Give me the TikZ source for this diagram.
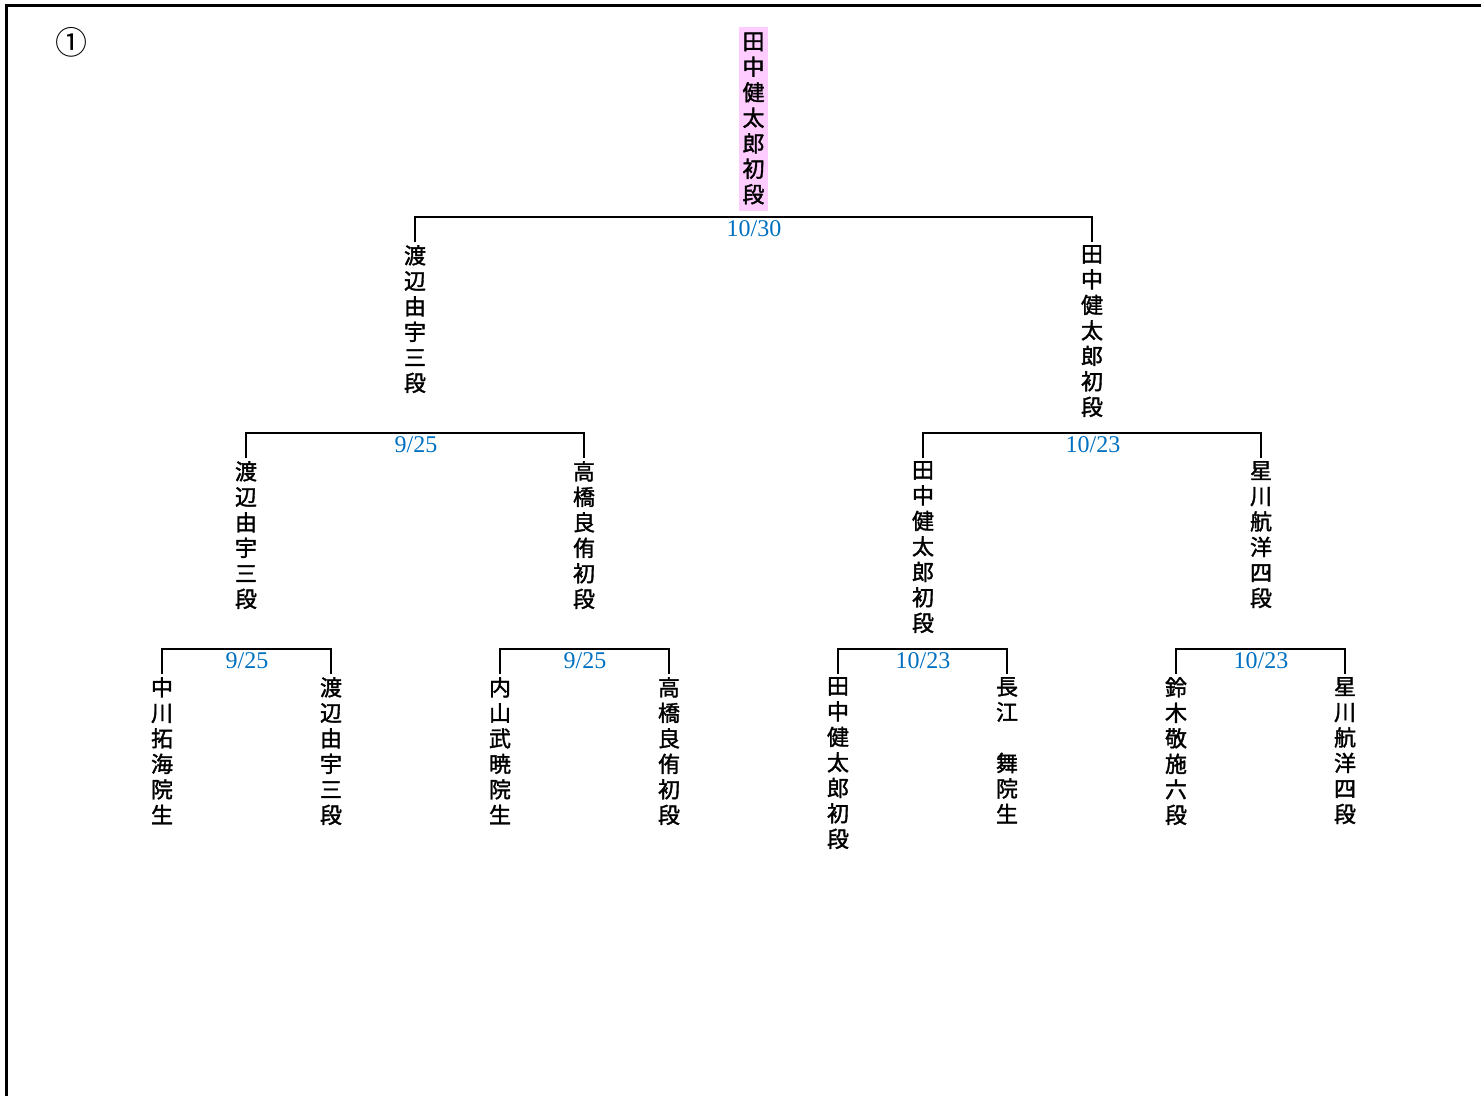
\documentclass[tikz,border=0pt]{standalone}
\usepackage{fontspec}
\newfontfamily\jp[FakeBold=1.6]{Noto Sans CJK JP}
\newfontfamily\circfont{Noto Sans CJK JP}
\newfontfamily\numfont{Liberation Serif}
\definecolor{datablue}{RGB}{0,112,192}
\definecolor{pinkbg}{RGB}{255,204,255}
\tikzset{
  player/.style={font=\jp\fontsize{22}{25.5}\selectfont, align=center, inner xsep=0pt, inner ysep=3pt, anchor=north},
  datelbl/.style={font=\numfont\fontsize{24}{26}\selectfont, text=datablue, inner sep=0pt, anchor=base},
  bracket/.style={line width=1.6pt},
  frame/.style={line width=2.5pt}
}
\begin{document}
\begin{tikzpicture}[x=1pt,y=-1pt]
\useasboundingbox (0,0) rectangle (1481,1096);
\coordinate (fa) at (6.5,1096);
\coordinate (fb) at (6.5,5.5);
\coordinate (fc) at (1481,5.5);
\draw[frame] (fa) -- (fb) -- (fc);
\node[font=\circfont\fontsize{32}{34}\selectfont, inner sep=0pt] (num) at (71,42) {①};
% root
\node[font=\jp\fontsize{22}{25.5}\selectfont, align=center, fill=pinkbg, minimum width=29pt, minimum height=184pt, inner sep=0pt] (root) at (753.5,118.5) {田\\中\\健\\太\\郎\\初\\段};
% level 1
\node[player] (a1) at (415,242) {渡\\辺\\由\\宇\\三\\段};
\node[player] (a2) at (1092,242) {田\\中\\健\\太\\郎\\初\\段};
\coordinate (ba) at (754,217);
\draw[bracket] (a1.north) |- (ba) -| (a2.north);
\node[datelbl] (da) at (754,236.5) {10/30};
% level 2
\node[player] (b1) at (246,458) {渡\\辺\\由\\宇\\三\\段};
\node[player] (b2) at (584,458) {高\\橋\\良\\侑\\初\\段};
\node[player] (b3) at (923,458) {田\\中\\健\\太\\郎\\初\\段};
\node[player] (b4) at (1261,458) {星\\川\\航\\洋\\四\\段};
\coordinate (bb1) at (415,433);
\coordinate (bb2) at (1092,433);
\draw[bracket] (b1.north) |- (bb1) -| (b2.north);
\draw[bracket] (b3.north) |- (bb2) -| (b4.north);
\node[datelbl] (db1) at (416,452.5) {9/25};
\node[datelbl] (db2) at (1093,452.5) {10/23};
% level 3
\node[player] (c1) at (162,674) {中\\川\\拓\\海\\院\\生};
\node[player] (c2) at (331,674) {渡\\辺\\由\\宇\\三\\段};
\node[player] (c3) at (500,674) {内\\山\\武\\暁\\院\\生};
\node[player] (c4) at (669,674) {高\\橋\\良\\侑\\初\\段};
\node[player] (c5) at (838,674) {田\\中\\健\\太\\郎\\初\\段};
\node[player] (c6) at (1007,674) {長\\江\\　\\舞\\院\\生};
\node[player] (c7) at (1176,674) {鈴\\木\\敬\\施\\六\\段};
\node[player] (c8) at (1345,674) {星\\川\\航\\洋\\四\\段};
\coordinate (bc1) at (246.5,649);
\coordinate (bc2) at (584.5,649);
\coordinate (bc3) at (922.5,649);
\coordinate (bc4) at (1260.5,649);
\draw[bracket] (c1.north) |- (bc1) -| (c2.north);
\draw[bracket] (c3.north) |- (bc2) -| (c4.north);
\draw[bracket] (c5.north) |- (bc3) -| (c6.north);
\draw[bracket] (c7.north) |- (bc4) -| (c8.north);
\node[datelbl] (dc1) at (247,668.5) {9/25};
\node[datelbl] (dc2) at (585,668.5) {9/25};
\node[datelbl] (dc3) at (923,668.5) {10/23};
\node[datelbl] (dc4) at (1261,668.5) {10/23};
\end{tikzpicture}
\end{document}
